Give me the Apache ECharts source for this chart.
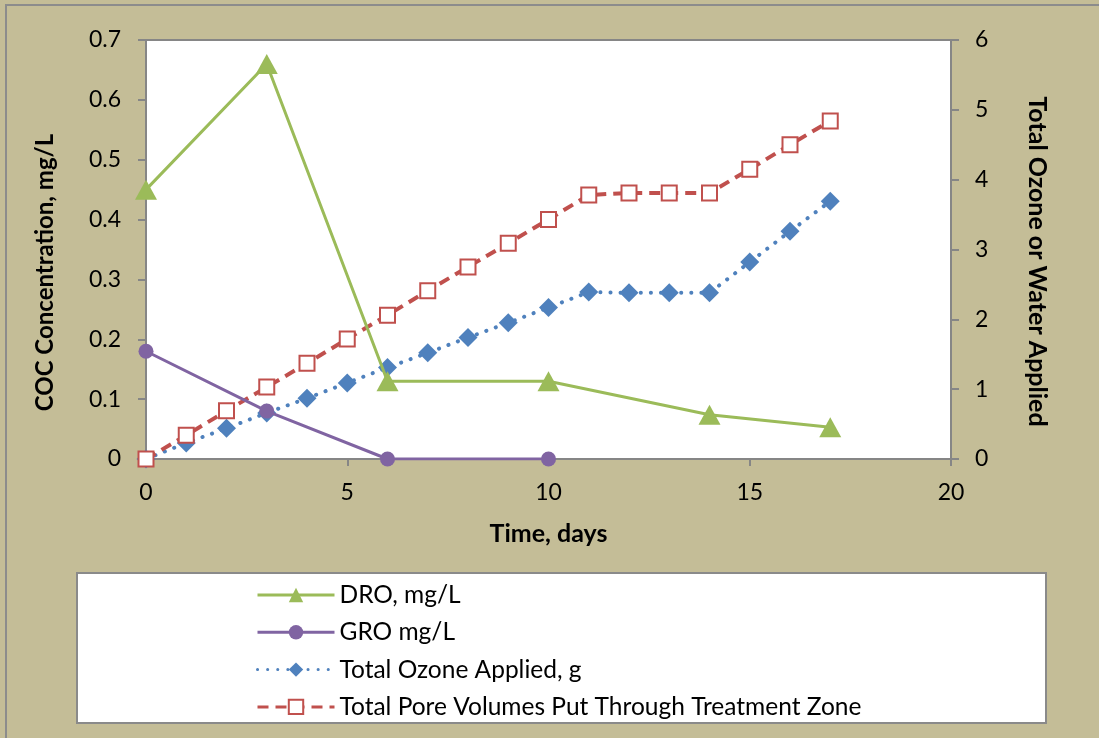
<!DOCTYPE html>
<html>
<head>
<meta charset="utf-8">
<script src="https://cdn.jsdelivr.net/npm/echarts@6/dist/echarts.min.js"></script>
<style>
  html, body { margin: 0; padding: 0; background: #C4BD97; }
  #chart { width: 1099px; height: 738px; }
</style>
</head>
<body>
<div id="chart"></div>
<script>
// Sampling days
const droDays = [0, 3, 6, 10, 14, 17];
const groDays = [0, 3, 6, 10];
const cumDays = [0, 1, 2, 3, 4, 5, 6, 7, 8, 9, 10, 11, 12, 13, 14, 15, 16, 17];

// COC concentrations, mg/L (left axis)
const droValues = [0.45, 0.66, 0.13, 0.13, 0.074, 0.053];
const groValues = [0.18, 0.08, 0, 0];

// Cumulative quantities (right axis)
const ozoneValues = [0, 0.23, 0.44, 0.66, 0.87, 1.09, 1.31, 1.52, 1.74, 1.95, 2.17, 2.39, 2.38, 2.38, 2.38, 2.82, 3.26, 3.69];
const poreValues = [0, 0.34, 0.69, 1.03, 1.37, 1.72, 2.06, 2.41, 2.75, 3.09, 3.43, 3.78, 3.81, 3.81, 3.81, 4.15, 4.5, 4.84];

const seriesNames = [
  'DRO, mg/L',
  'GRO mg/L',
  'Total Ozone Applied, g',
  'Total Pore Volumes Put Through Treatment Zone'
];

const pair = (xs, ys) => xs.map((x, i) => [x, ys[i]]);

const FONT = 'Lato, "Open Sans", sans-serif';
const AXIS_GRAY = '#868686';

const chart = echarts.init(document.getElementById('chart'), null, { renderer: 'canvas' });

chart.setOption({
  backgroundColor: '#C4BD97',
  animation: false,
  textStyle: { fontFamily: FONT, color: '#000' },
  graphic: [
    {
      type: 'rect', z: -10, silent: true,
      shape: { x: 6, y: 5, width: 1100, height: 740 },
      style: { fill: 'none', stroke: '#8c8c8c', lineWidth: 2 }
    },
    {
      type: 'rect', z: -5, silent: true,
      shape: { x: 77, y: 573, width: 969, height: 150 },
      style: { fill: '#ffffff', stroke: '#8a8a8a', lineWidth: 2 }
    }
  ],
  grid: {
    left: 146, right: 148, top: 40, bottom: 279,
    show: true, backgroundColor: '#ffffff', borderColor: AXIS_GRAY, borderWidth: 2
  },
  legend: {
    data: seriesNames,
    orient: 'vertical',
    left: 251, top: 576,
    itemWidth: 77, itemHeight: 18,
    itemGap: 9.3,
    lineStyle: { width: 3 },
    textStyle: { fontFamily: FONT, fontSize: 24.5, color: '#000', lineHeight: 28 }
  },
  xAxis: {
    type: 'value', min: 0, max: 20, interval: 5,
    name: 'Time, days', nameLocation: 'middle', nameGap: 62,
    nameTextStyle: { fontFamily: FONT, fontSize: 25, fontWeight: 'bold', color: '#000' },
    axisLine: { onZero: false, lineStyle: { color: AXIS_GRAY, width: 2 } },
    axisTick: { show: true, length: 7, lineStyle: { color: AXIS_GRAY, width: 2 } },
    axisLabel: { fontFamily: FONT, fontSize: 23, color: '#000', margin: 22 },
    splitLine: { show: false }
  },
  yAxis: [
    {
      type: 'value', min: 0, max: 0.7, interval: 0.1, position: 'left',
      name: 'COC Concentration, mg/L', nameLocation: 'middle', nameGap: 89, nameRotate: 90,
      nameTextStyle: { fontFamily: FONT, fontSize: 24, fontWeight: 'bold', color: '#000', padding: [0, 46, 0, 0] },
      axisLine: { show: true, lineStyle: { color: AXIS_GRAY, width: 2 } },
      axisTick: { show: true, length: 8, lineStyle: { color: AXIS_GRAY, width: 2 } },
      axisLabel: { fontFamily: FONT, fontSize: 23, color: '#000', margin: 25 },
      splitLine: { show: false }
    },
    {
      type: 'value', min: 0, max: 6, interval: 1, position: 'right',
      name: 'Total Ozone or Water Applied', nameLocation: 'middle', nameGap: 74, nameRotate: -90,
      nameTextStyle: { fontFamily: FONT, fontSize: 25, fontWeight: 'bold', color: '#000', padding: [0, 0, 0, 24] },
      axisLine: { show: true, lineStyle: { color: AXIS_GRAY, width: 2 } },
      axisTick: { show: true, length: 8, lineStyle: { color: AXIS_GRAY, width: 2 } },
      axisLabel: { fontFamily: FONT, fontSize: 23, color: '#000', margin: 24 },
      splitLine: { show: false }
    }
  ],
  series: [
    {
      name: seriesNames[2], type: 'line', yAxisIndex: 1,
      data: pair(cumDays, ozoneValues),
      symbol: 'diamond', symbolSize: 19,
      itemStyle: { color: '#4F81BD' },
      lineStyle: { color: '#4F81BD', width: 4, type: [0.1, 10], cap: 'round' },
      z: 3
    },
    {
      name: seriesNames[3], type: 'line', yAxisIndex: 1,
      data: pair(cumDays, poreValues),
      symbol: 'rect', symbolSize: 15,
      itemStyle: { color: '#ffffff', borderColor: '#C0504D', borderWidth: 2 },
      lineStyle: { color: '#C0504D', width: 4, type: [11, 7] },
      z: 4
    },
    {
      name: seriesNames[0], type: 'line', yAxisIndex: 0,
      data: pair(droDays, droValues),
      symbol: 'triangle', symbolSize: [22, 20],
      itemStyle: { color: '#9BBB59' },
      lineStyle: { color: '#9BBB59', width: 3 },
      z: 5
    },
    {
      name: seriesNames[1], type: 'line', yAxisIndex: 0,
      data: pair(groDays, groValues),
      symbol: 'circle', symbolSize: 15,
      itemStyle: { color: '#8064A2' },
      lineStyle: { color: '#8064A2', width: 3 },
      z: 5
    }
  ]
});
</script>
</body>
</html>
